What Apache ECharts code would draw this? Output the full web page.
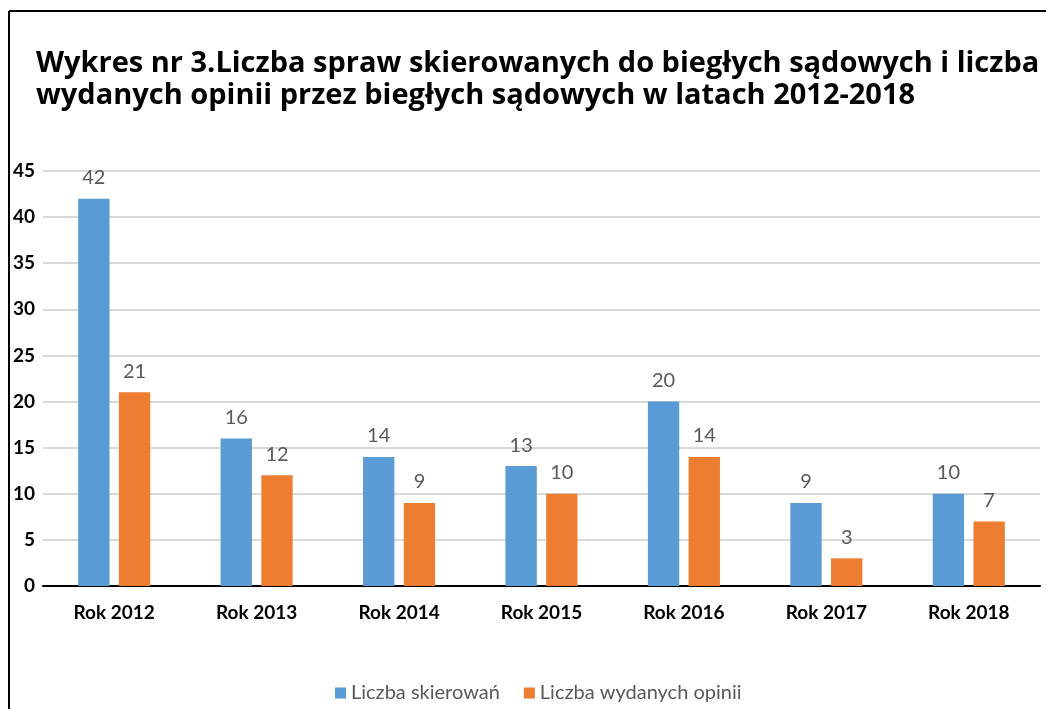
<!DOCTYPE html>
<html>
<head>
<meta charset="utf-8">
<script src="https://cdn.jsdelivr.net/npm/echarts@6/dist/echarts.min.js"></script>
<style>
  html, body { margin: 0; padding: 0; background: #fff; }
  #main { width: 1046px; height: 709px; }
</style>
</head>
<body>
<div id="main"></div>
<script>
var categories = ['Rok 2012', 'Rok 2013', 'Rok 2014', 'Rok 2015', 'Rok 2016', 'Rok 2017', 'Rok 2018'];
var skierowan = [42, 16, 14, 13, 20, 9, 10];
var opinii = [21, 12, 9, 10, 14, 3, 7];
var seriesNames = ['Liczba skierowań', 'Liczba wydanych opinii'];

var myChart = echarts.init(document.getElementById('main'));
window.addEventListener('resize', function () {
  myChart.resize();
});

var labelStyle = {
  show: true,
  position: 'top',
  distance: 11,
  color: '#595959',
  fontFamily: 'Lato',
  fontSize: 20
};

myChart.setOption({
  backgroundColor: '#fff',
  animation: false,
  title: {
    text: 'Wykres nr 3.Liczba spraw skierowanych do biegłych sądowych i liczba\nwydanych opinii przez biegłych sądowych w latach 2012-2018',
    left: 31,
    top: 43,
    textStyle: {
      color: '#000',
      fontFamily: 'Open Sans',
      fontWeight: 'bold',
      fontSize: 29,
      lineHeight: 32
    }
  },
  graphic: [
    // ramka wykresu (tylko lewa i górna krawędź widoczna)
    { type: 'line', shape: { x1: 9, y1: 11, x2: 1046, y2: 11 }, style: { stroke: '#000', lineWidth: 2 } },
    { type: 'line', shape: { x1: 9, y1: 11, x2: 9, y2: 709 }, style: { stroke: '#000', lineWidth: 2 } }
  ],
  legend: {
    bottom: 1,
    left: 330,
    itemWidth: 11,
    itemHeight: 11,
    itemGap: 24,
    icon: 'rect',
    textStyle: {
      color: '#595959',
      fontFamily: 'Lato',
      fontSize: 20
    },
    data: seriesNames
  },
  grid: {
    left: 43,
    right: 6,
    top: 171,
    bottom: 123,
    outerBoundsMode: 'none',
    containLabel: false
  },
  xAxis: {
    type: 'category',
    data: categories,
    axisTick: { show: false },
    axisLine: { lineStyle: { color: '#000', width: 2 } },
    axisLabel: {
      color: '#000',
      fontFamily: 'Lato',
      fontWeight: 'bold',
      fontSize: 19,
      margin: 17
    }
  },
  yAxis: {
    type: 'value',
    min: 0,
    max: 45,
    interval: 5,
    axisLine: { show: false },
    axisTick: { show: false },
    splitLine: { lineStyle: { color: '#d9d9d9', width: 2 } },
    axisLabel: {
      color: '#000',
      fontFamily: 'Lato',
      fontWeight: 'bold',
      fontSize: 19,
      margin: 8
    }
  },
  series: [
    {
      name: seriesNames[0],
      type: 'bar',
      data: skierowan,
      barWidth: '22%',
      barGap: '30%',
      itemStyle: { color: '#5b9bd5' },
      label: labelStyle
    },
    {
      name: seriesNames[1],
      type: 'bar',
      data: opinii,
      barWidth: '22%',
      barGap: '30%',
      itemStyle: { color: '#ed7d31' },
      label: labelStyle
    }
  ]
});
</script>
</body>
</html>
